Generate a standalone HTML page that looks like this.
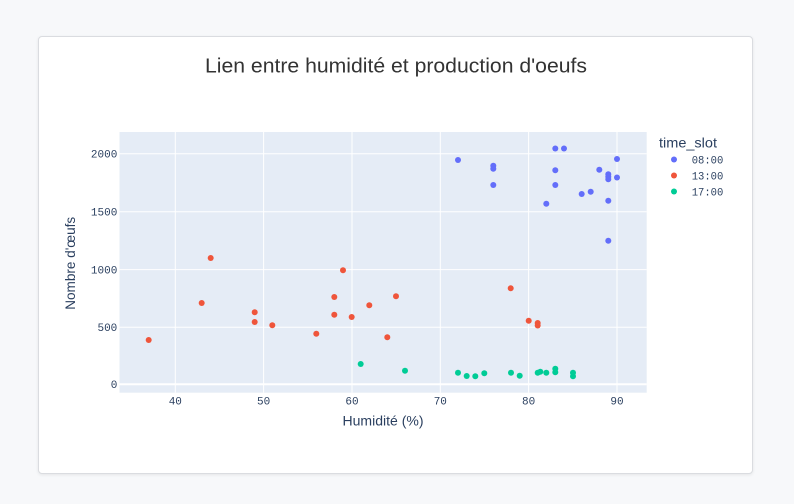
<!DOCTYPE html>
<html>
<head>
<meta charset="utf-8">
<style>
  html, body { margin:0; padding:0; width:794px; height:504px; background:#f7f8fa; overflow:hidden; }
  .card { position:absolute; left:38px; top:36px; width:713px; height:436px; background:#fff; border:1px solid #dadce0; border-radius:4px; box-shadow:0 1px 3px rgba(0,0,0,0.08); }
  svg { position:absolute; left:0; top:0; }
</style>
</head>
<body>
<div class="card"></div>
<svg width="794" height="504" viewBox="0 0 794 504" xmlns="http://www.w3.org/2000/svg">
  <!-- title -->
  <text x="396" y="72.5" text-anchor="middle" font-family="Liberation Sans, sans-serif" font-size="20" fill="#333333" textLength="382" lengthAdjust="spacingAndGlyphs">Lien entre humidité et production d'oeufs</text>

  <!-- plot area -->
  <rect x="119.5" y="132" width="527.2" height="260.7" fill="#e5ecf6"/>
  <g stroke="#ffffff" stroke-width="1">
    <line x1="175.3" y1="132" x2="175.3" y2="392.7"/>
    <line x1="263.6" y1="132" x2="263.6" y2="392.7"/>
    <line x1="352" y1="132" x2="352" y2="392.7"/>
    <line x1="440.3" y1="132" x2="440.3" y2="392.7"/>
    <line x1="528.6" y1="132" x2="528.6" y2="392.7"/>
    <line x1="617" y1="132" x2="617" y2="392.7"/>
    <line x1="119.5" y1="327.3" x2="646.7" y2="327.3"/>
    <line x1="119.5" y1="269.6" x2="646.7" y2="269.6"/>
    <line x1="119.5" y1="211.8" x2="646.7" y2="211.8"/>
    <line x1="119.5" y1="153.7" x2="646.7" y2="153.7"/>
  </g>
  <line x1="119.5" y1="384.3" x2="646.7" y2="384.3" stroke="#ffffff" stroke-width="2"/>

  <!-- y tick labels -->
  <g font-family="Liberation Mono, monospace" font-size="11" fill="#2a3f5f" text-anchor="end">
    <text x="117.3" y="388">0</text>
    <text x="117.3" y="331">500</text>
    <text x="117.3" y="273.3">1000</text>
    <text x="117.3" y="215.5">1500</text>
    <text x="117.3" y="157.4">2000</text>
  </g>
  <!-- x tick labels -->
  <g font-family="Liberation Mono, monospace" font-size="11" fill="#2a3f5f" text-anchor="middle">
    <text x="175.3" y="404.6">40</text>
    <text x="263.6" y="404.6">50</text>
    <text x="352" y="404.6">60</text>
    <text x="440.3" y="404.6">70</text>
    <text x="528.6" y="404.6">80</text>
    <text x="617" y="404.6">90</text>
  </g>

  <!-- axis titles -->
  <text x="383" y="425.5" text-anchor="middle" font-family="Liberation Sans, sans-serif" font-size="13.5" fill="#2a3f5f" textLength="81" lengthAdjust="spacingAndGlyphs">Humidité (%)</text>
  <text transform="translate(75,263.3) rotate(-90)" text-anchor="middle" font-family="Liberation Sans, sans-serif" font-size="13.5" fill="#2a3f5f" textLength="93" lengthAdjust="spacingAndGlyphs">Nombre d'œufs</text>

  <!-- blue 08:00 -->
  <g fill="#636efa">
    <circle cx="458" cy="160" r="3"/>
    <circle cx="493.3" cy="165.7" r="3"/>
    <circle cx="493.3" cy="168.7" r="3"/>
    <circle cx="493.3" cy="185" r="3"/>
    <circle cx="555.3" cy="148.5" r="3"/>
    <circle cx="564" cy="148.5" r="3"/>
    <circle cx="555.3" cy="170.3" r="3"/>
    <circle cx="555.3" cy="185" r="3"/>
    <circle cx="546.3" cy="203.7" r="3"/>
    <circle cx="581.7" cy="194" r="3"/>
    <circle cx="590.7" cy="191.7" r="3"/>
    <circle cx="599.3" cy="169.7" r="3"/>
    <circle cx="608.3" cy="174.3" r="3"/>
    <circle cx="608.3" cy="176.7" r="3"/>
    <circle cx="608.3" cy="179.3" r="3"/>
    <circle cx="608.3" cy="200.7" r="3"/>
    <circle cx="608.3" cy="240.7" r="3"/>
    <circle cx="617" cy="159" r="3"/>
    <circle cx="617" cy="177.5" r="3"/>
  </g>
  <!-- red 13:00 -->
  <g fill="#ef553b">
    <circle cx="148.7" cy="340" r="3"/>
    <circle cx="201.7" cy="303" r="3"/>
    <circle cx="210.7" cy="258" r="3"/>
    <circle cx="254.7" cy="312.3" r="3"/>
    <circle cx="254.7" cy="322" r="3"/>
    <circle cx="272.3" cy="325.3" r="3"/>
    <circle cx="316.3" cy="333.7" r="3"/>
    <circle cx="334.3" cy="297" r="3"/>
    <circle cx="334.3" cy="314.7" r="3"/>
    <circle cx="343" cy="270.3" r="3"/>
    <circle cx="351.7" cy="317" r="3"/>
    <circle cx="369.3" cy="305.3" r="3"/>
    <circle cx="396" cy="296.3" r="3"/>
    <circle cx="387.3" cy="337.3" r="3"/>
    <circle cx="510.7" cy="288.3" r="3"/>
    <circle cx="528.7" cy="320.7" r="3"/>
    <circle cx="537.7" cy="323" r="3"/>
    <circle cx="537.7" cy="325.5" r="3"/>
  </g>
  <!-- green 17:00 -->
  <g fill="#00cc96">
    <circle cx="360.7" cy="364" r="3"/>
    <circle cx="405" cy="370.7" r="3"/>
    <circle cx="458" cy="372.7" r="3"/>
    <circle cx="466.7" cy="376" r="3"/>
    <circle cx="475.3" cy="376.3" r="3"/>
    <circle cx="484.3" cy="373.3" r="3"/>
    <circle cx="511" cy="372.7" r="3"/>
    <circle cx="519.7" cy="375.7" r="3"/>
    <circle cx="537.7" cy="372.7" r="3"/>
    <circle cx="540.3" cy="371.7" r="3"/>
    <circle cx="546.3" cy="372.7" r="3"/>
    <circle cx="555.3" cy="368.7" r="3"/>
    <circle cx="555.3" cy="372.3" r="3"/>
    <circle cx="573" cy="372.7" r="3"/>
    <circle cx="573" cy="376.3" r="3"/>
  </g>

  <!-- legend -->
  <text x="659" y="147.3" font-family="Liberation Sans, sans-serif" font-size="14" fill="#2a3f5f" textLength="58" lengthAdjust="spacingAndGlyphs">time_slot</text>
  <circle cx="674" cy="159.5" r="3" fill="#636efa"/>
  <circle cx="674" cy="175.5" r="3" fill="#ef553b"/>
  <circle cx="674" cy="191.5" r="3" fill="#00cc96"/>
  <g font-family="Liberation Mono, monospace" font-size="11" fill="#2a3f5f">
    <text x="691.7" y="163.3" textLength="31.6" lengthAdjust="spacingAndGlyphs">08:00</text>
    <text x="691.7" y="179.3" textLength="31.6" lengthAdjust="spacingAndGlyphs">13:00</text>
    <text x="691.7" y="195.3" textLength="31.6" lengthAdjust="spacingAndGlyphs">17:00</text>
  </g>
</svg>
</body>
</html>
